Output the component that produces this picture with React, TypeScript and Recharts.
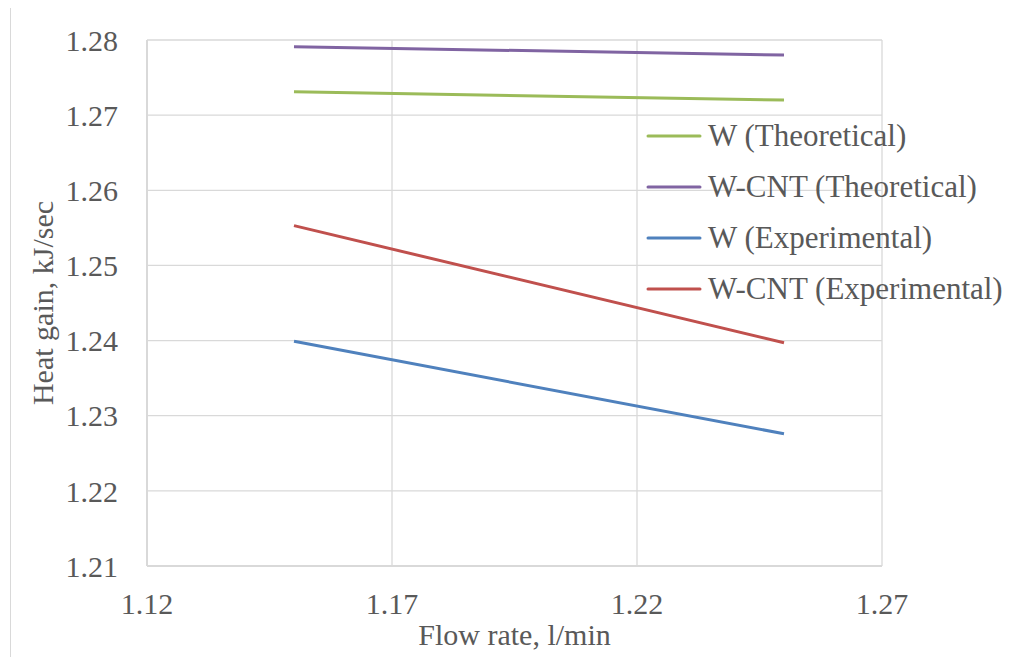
import React from 'react';
import { LineChart, Line, XAxis, YAxis, CartesianGrid } from 'recharts';

// Values
const flowRates = [1.15, 1.25];
const wTheoretical = [1.2731, 1.272];
const wcntTheoretical = [1.2791, 1.278];
const wExperimental = [1.2399, 1.2276];
const wcntExperimental = [1.2553, 1.2397];

const xTicks = [1.12, 1.17, 1.22, 1.27];
const yTicks = [1.21, 1.22, 1.23, 1.24, 1.25, 1.26, 1.27, 1.28];

const seriesNames = ['W (Theoretical)', 'W-CNT (Theoretical)', 'W (Experimental)', 'W-CNT (Experimental)'];
const seriesColors = ['#9BBB59', '#8064A2', '#4F81BD', '#C0504D'];
const seriesValues = [wTheoretical, wcntTheoretical, wExperimental, wcntExperimental];

const chartData = flowRates.map((flow, i) => {
  const row: Record<string, number> = { flow };
  seriesNames.forEach((name, s) => {
    row[name] = seriesValues[s][i];
  });
  return row;
});

const FONT = "'Liberation Serif', 'Times New Roman', serif";
const TEXT = '#595959';
const GRID = '#D9D9D9';

// legend sits over the plot, like Excel's
function ChartLegend() {
  return (
    <div
      style={{
        position: 'absolute',
        left: 646,
        top: 110,
        fontFamily: FONT,
        fontSize: 31,
        color: TEXT,
      }}
    >
      {seriesNames.map((name, s) => (
        <div key={name} style={{ display: 'flex', alignItems: 'center', height: 51 }}>
          <svg width={56} height={6} style={{ marginRight: 6 }}>
            <line x1={2} y1={3} x2={54} y2={3} stroke={seriesColors[s]} strokeWidth={3} strokeLinecap="round" />
          </svg>
          <span style={{ whiteSpace: 'nowrap' }}>{name}</span>
        </div>
      ))}
    </div>
  );
}

const tickStyle = { fill: TEXT, fontSize: 30, fontFamily: FONT };

export default function App() {
  return (
    <div
      style={{
        position: 'relative',
        width: 1023,
        height: 657,
        margin: '-8px 0 0 -8px',
        overflow: 'hidden',
        background: '#fff',
        fontFamily: FONT,
      }}
    >
      <div
        style={{
          position: 'absolute',
          left: 10,
          top: 7,
          width: 1100,
          height: 700,
          border: `1px solid ${GRID}`,
        }}
      />
      <LineChart
        width={1023}
        height={657}
        data={chartData}
        margin={{ top: 40, right: 141, left: 27, bottom: 31 }}
        style={{ position: 'absolute', left: 0, top: 0, fontFamily: FONT }}
      >
        <CartesianGrid stroke={GRID} strokeWidth={1.3} />
        <XAxis
          dataKey="flow"
          type="number"
          domain={[1.12, 1.27]}
          ticks={xTicks}
          tickFormatter={(v: number) => v.toFixed(2)}
          height={60}
          tickLine={false}
          tickSize={0}
          tickMargin={27}
          fontFamily={FONT}
          fontSize={30}
          axisLine={{ stroke: GRID, strokeWidth: 2 }}
          tick={tickStyle}
          label={{
            value: 'Flow rate, l/min',
            position: 'bottom',
            offset: -2,
            fill: TEXT,
            fontSize: 30,
            fontFamily: FONT,
          }}
        />
        <YAxis
          type="number"
          domain={[1.21, 1.28]}
          ticks={yTicks}
          tickFormatter={(v: number) => v.toFixed(2)}
          width={120}
          tickLine={false}
          tickSize={0}
          tickMargin={29}
          fontFamily={FONT}
          fontSize={30}
          axisLine={{ stroke: GRID, strokeWidth: 2 }}
          tick={tickStyle}
          label={{
            value: 'Heat gain, kJ/sec',
            angle: -90,
            position: 'insideLeft',
            offset: 15,
            fill: TEXT,
            fontSize: 30,
            fontFamily: FONT,
            style: { textAnchor: 'middle' },
          }}
        />
        {seriesNames.map((name, s) => (
          <Line
            key={name}
            type="linear"
            dataKey={name}
            name={name}
            stroke={seriesColors[s]}
            strokeWidth={3}
            dot={false}
            activeDot={false}
            isAnimationActive={false}
          />
        ))}
      </LineChart>
      <ChartLegend />
    </div>
  );
}
